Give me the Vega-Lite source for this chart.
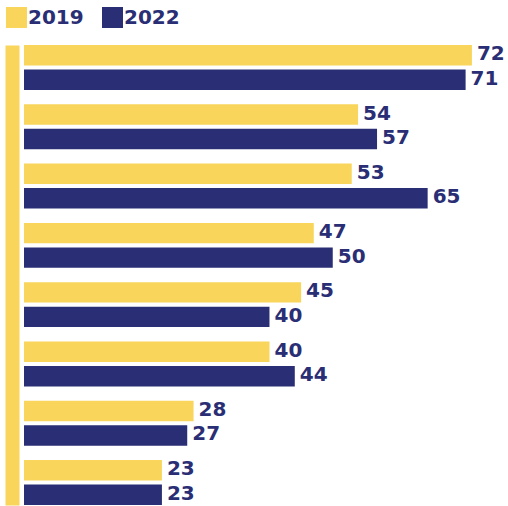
{
  "$schema": "https://vega.github.io/schema/vega-lite/v6.json",
  "width": 484,
  "height": 460,
  "autosize": {"type": "none"},
  "padding": {"left": 24, "top": 45, "right": 0, "bottom": 1},
  "background": "white",
  "config": {"view": {"stroke": null}},
  "data": {
    "values": [
      {"item": "Item 1", "year": "2019", "value": 72},
      {"item": "Item 1", "year": "2022", "value": 71},
      {"item": "Item 2", "year": "2019", "value": 54},
      {"item": "Item 2", "year": "2022", "value": 57},
      {"item": "Item 3", "year": "2019", "value": 53},
      {"item": "Item 3", "year": "2022", "value": 65},
      {"item": "Item 4", "year": "2019", "value": 47},
      {"item": "Item 4", "year": "2022", "value": 50},
      {"item": "Item 5", "year": "2019", "value": 45},
      {"item": "Item 5", "year": "2022", "value": 40},
      {"item": "Item 6", "year": "2019", "value": 40},
      {"item": "Item 6", "year": "2022", "value": 44},
      {"item": "Item 7", "year": "2019", "value": 28},
      {"item": "Item 7", "year": "2022", "value": 27},
      {"item": "Item 8", "year": "2019", "value": 23},
      {"item": "Item 8", "year": "2022", "value": 23}
    ]
  },
  "encoding": {
    "y": {
      "field": "item",
      "type": "nominal",
      "sort": null,
      "scale": {"paddingInner": 0.243, "paddingOuter": 0},
      "axis": {
        "title": null,
        "labels": false,
        "ticks": false,
        "domainColor": "#F9D65B",
        "domainWidth": 14,
        "domainCap": "butt",
        "offset": 12
      }
    },
    "yOffset": {
      "field": "year",
      "type": "nominal",
      "scale": {"paddingInner": 0.167, "paddingOuter": 0}
    },
    "x": {
      "field": "value",
      "type": "quantitative",
      "scale": {"domain": [1.2, 77.7], "zero": false, "nice": false},
      "axis": null
    }
  },
  "layer": [
    {
      "mark": {"type": "bar", "clip": true},
      "encoding": {
        "color": {
          "field": "year",
          "type": "nominal",
          "scale": {"domain": ["2019", "2022"], "range": ["#F9D65B", "#2A2E74"]},
          "legend": {
            "orient": "none",
            "legendX": -18,
            "legendY": -38,
            "direction": "horizontal",
            "title": null,
            "symbolType": "square",
            "symbolSize": 441,
            "symbolStrokeWidth": 0,
            "symbolOpacity": 1,
            "labelFont": "DejaVu Sans",
            "labelFontWeight": "bold",
            "labelFontSize": 20,
            "labelColor": "#2A2E74",
            "labelOffset": 1,
            "columnPadding": 18,
            "padding": 0
          }
        }
      }
    },
    {
      "mark": {
        "type": "text",
        "align": "left",
        "baseline": "middle",
        "dx": 5,
        "dy": -1,
        "font": "DejaVu Sans",
        "fontWeight": "bold",
        "fontSize": 20,
        "color": "#2A2E74"
      },
      "encoding": {"text": {"field": "value", "type": "quantitative"}}
    }
  ]
}
